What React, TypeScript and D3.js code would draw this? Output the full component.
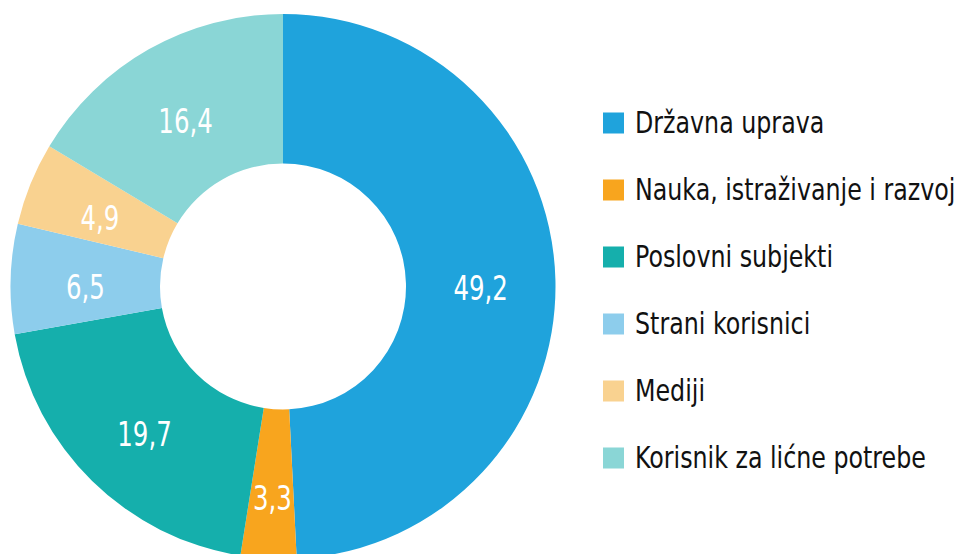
import React from "react";
import * as d3 from "d3";

const categories = [
  "Državna uprava",
  "Nauka, istraživanje i razvoj",
  "Poslovni subjekti",
  "Strani korisnici",
  "Mediji",
  "Korisnik za lićne potrebe",
];
const values = [49.2, 3.3, 19.7, 6.5, 4.9, 16.4];
const valueLabels = ["49,2", "3,3", "19,7", "6,5", "4,9", "16,4"];
const colors = ["#1fa3dc", "#f8a51e", "#15afac", "#8dcdec", "#f9d290", "#8ad6d6"];

const W = 962;
const H = 554;
const FONT = "'Liberation Sans Narrow', 'DejaVu Sans Condensed', 'Arial Narrow', sans-serif";

export default function App() {
  const cx = 283;
  const cy = 286.5;
  const outerR = 272.5;
  const innerR = 123;
  const pie = d3.pie<number>().sort(null).value((d) => d);
  const arcs = pie(values);
  const arc = d3.arc<d3.PieArcDatum<number>>().innerRadius(innerR).outerRadius(outerR);

  const legendY = d3.scalePoint<string>().domain(categories).range([123, 458]);

  return (
    <svg
      width={W}
      height={H}
      style={{ position: "absolute", left: 0, top: 0, background: "#fff" }}
    >
      <g transform={`translate(${cx},${cy})`}>
        {arcs.map((a, i) => (
          <path key={i} d={arc(a) || ""} fill={colors[i]} />
        ))}
        {arcs.map((a, i) => {
          const [x, y] = arc.centroid(a);
          const yy = y + (i === 1 ? 14 : 6);
          return (
            <text
              key={i}
              transform={`translate(${x},${yy}) scale(0.8,1)`}
              textAnchor="middle"
              dominantBaseline="central"
              fill="#fff"
              fontFamily={FONT}
              fontSize={34}
            >
              {valueLabels[i]}
            </text>
          );
        })}
      </g>
      <g>
        {categories.map((c, i) => {
          const y = legendY(c) as number;
          return (
            <g key={c}>
              <rect x={603} y={y - 10.5} width={21} height={21} fill={colors[i]} />
              <text
                transform={`translate(635,${y}) scale(0.88,1)`}
                dominantBaseline="central"
                fill="#111"
                fontFamily={FONT}
                fontSize={30}
              >
                {c}
              </text>
            </g>
          );
        })}
      </g>
    </svg>
  );
}
